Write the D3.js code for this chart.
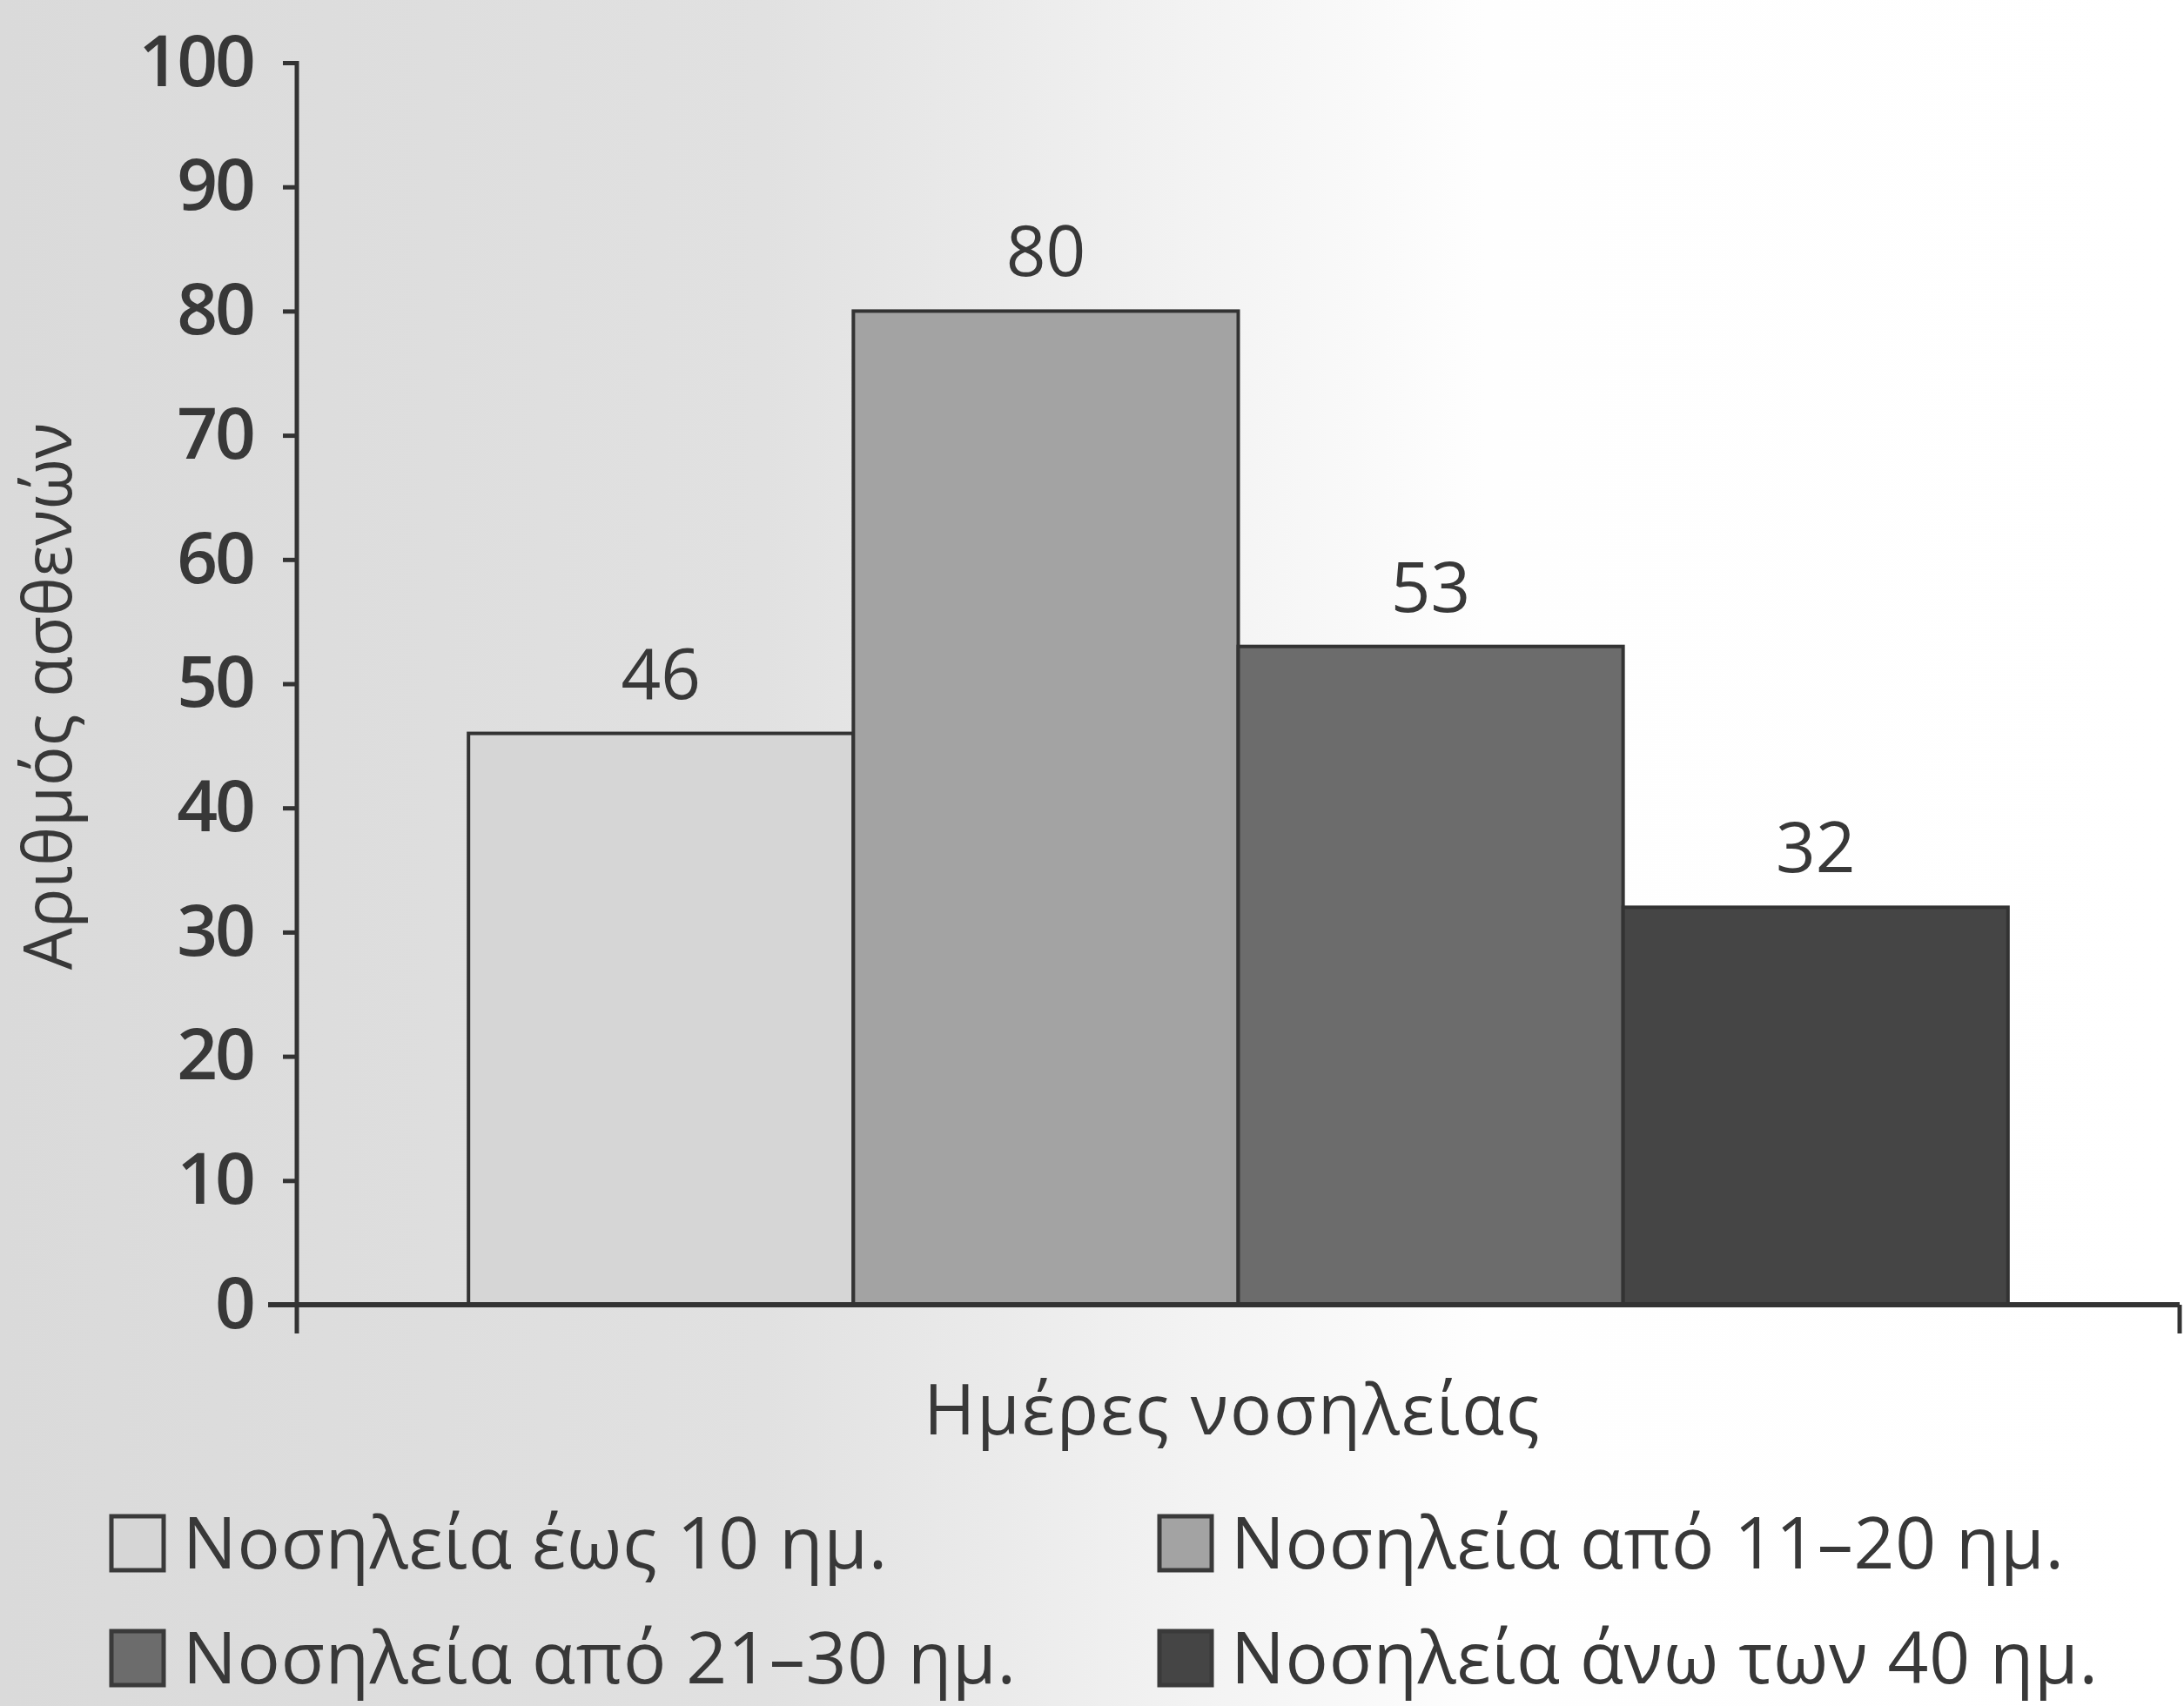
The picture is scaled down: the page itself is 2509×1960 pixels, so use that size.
<!DOCTYPE html>
<html>
<head>
<meta charset="utf-8">
<script src="https://cdn.jsdelivr.net/npm/d3@7"></script>
<style>
  html, body { margin: 0; padding: 0; background: #fff; }
  svg { display: block; font-family: "Open Sans", "DejaVu Sans", sans-serif; }
</style>
</head>
<body>
<svg id="chart" width="2509" height="1960"></svg>
<script>
// Data
const categories = ["Νοσηλεία έως 10 ημ.", "Νοσηλεία από 11–20 ημ.", "Νοσηλεία από 21–30 ημ.", "Νοσηλεία άνω των 40 ημ."];
const values = [46, 80, 53, 32];
const yTicks = [0, 10, 20, 30, 40, 50, 60, 70, 80, 90, 100];
const yTitle = "Αριθμός ασθενών";
const xTitle = "Ημέρες νοσηλείας";

const data = categories.map((c, i) => ({category: c, value: values[i]}));

const svg = d3.select("#chart");
const width = +svg.attr("width");
const height = +svg.attr("height");
const ink = "#383838";

// scanned-page look: grey on the left fading to white
const defs = svg.append("defs");
const grad = defs.append("linearGradient").attr("id", "bg").attr("x1", 0).attr("x2", 1).attr("y1", 0).attr("y2", 0);
grad.append("stop").attr("offset", "0%").attr("stop-color", "#dadada");
grad.append("stop").attr("offset", "35%").attr("stop-color", "#e1e1e1");
grad.append("stop").attr("offset", "55%").attr("stop-color", "#f3f3f3");
grad.append("stop").attr("offset", "68%").attr("stop-color", "#fefefe");
grad.append("stop").attr("offset", "100%").attr("stop-color", "#ffffff");
svg.append("rect").attr("width", width).attr("height", height).attr("fill", "url(#bg)");

const axisX = 341, baseY = 1499, topY = 72, rightX = 2504;

const y = d3.scaleLinear().domain([0, 100]).range([baseY, topY]);
const x = d3.scaleBand().domain(categories).range([axisX, rightX]).paddingInner(0).paddingOuter(0.446);
const color = d3.scaleOrdinal().domain(categories).range(["#d6d6d6", "#a3a3a3", "#6c6c6c", "#454545"]);

// bars
svg.selectAll(".bar")
  .data(data)
  .enter().append("rect")
  .attr("class", "bar")
  .attr("x", d => x(d.category))
  .attr("y", d => y(d.value))
  .attr("width", x.bandwidth())
  .attr("height", d => y(0) - y(d.value))
  .attr("fill", d => color(d.category))
  .attr("stroke", "#333")
  .attr("stroke-width", 4);

// value labels
svg.selectAll(".val")
  .data(data)
  .enter().append("text")
  .attr("class", "val")
  .attr("x", d => x(d.category) + x.bandwidth() / 2)
  .attr("y", d => y(d.value) - 40)
  .attr("text-anchor", "middle")
  .attr("font-size", 80)
  .attr("fill", ink)
  .text(d => d.value);

// y axis
const yAxis = svg.append("g")
  .attr("transform", `translate(${axisX},0)`)
  .call(d3.axisLeft(y).tickValues(yTicks).tickSize(16).tickPadding(34).tickSizeOuter(0));
yAxis.select(".domain").remove();
yAxis.selectAll(".tick line").attr("stroke", "#333").attr("stroke-width", 5);
yAxis.selectAll(".tick text")
  .attr("font-size", 82)
  .attr("font-weight", 600)
  .attr("letter-spacing", -3)
  .attr("fill", ink)
  .attr("font-family", "Open Sans");

// axis lines
svg.append("line").attr("x1", axisX).attr("x2", axisX).attr("y1", y(100) - 2).attr("y2", baseY + 33)
  .attr("stroke", "#333").attr("stroke-width", 5);
svg.append("line").attr("x1", 308).attr("x2", rightX).attr("y1", baseY).attr("y2", baseY)
  .attr("stroke", "#333").attr("stroke-width", 6);
svg.append("line").attr("x1", rightX).attr("x2", rightX).attr("y1", baseY).attr("y2", baseY + 33)
  .attr("stroke", "#333").attr("stroke-width", 5);

// axis titles
svg.append("text")
  .attr("transform", `translate(82,${800}) rotate(-90)`)
  .attr("text-anchor", "middle")
  .attr("font-size", 76)
  .attr("fill", ink)
  .text(yTitle);

svg.append("text")
  .attr("x", 1416)
  .attr("y", 1648)
  .attr("text-anchor", "middle")
  .attr("font-size", 80)
  .attr("letter-spacing", 2)
  .attr("fill", ink)
  .text(xTitle);

// legend, 2 x 2
const legendCols = [126, 1330];
const legendRows = [1802, 1934];
const legend = svg.selectAll(".legend")
  .data(data)
  .enter().append("g")
  .attr("class", "legend")
  .attr("transform", (d, i) => `translate(${legendCols[i % 2]},${legendRows[Math.floor(i / 2)]})`);

legend.append("rect")
  .attr("x", 2)
  .attr("y", -60)
  .attr("width", 60)
  .attr("height", 62)
  .attr("fill", d => color(d.category))
  .attr("stroke", "#3a3a3a")
  .attr("stroke-width", 5);

legend.append("text")
  .attr("x", 84)
  .attr("y", 0)
  .attr("font-size", 82)
  .attr("letter-spacing", 0.8)
  .attr("fill", ink)
  .text(d => d.category);
</script>
</body>
</html>
